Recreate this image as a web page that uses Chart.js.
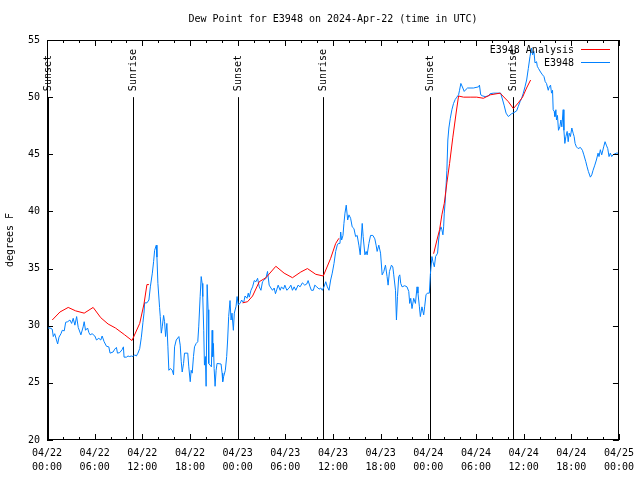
<!DOCTYPE html>
<html>
<head>
<meta charset="utf-8">
<script src="https://cdn.jsdelivr.net/npm/chart.js@4"></script>
<style>
  html, body { margin: 0; padding: 0; background: #fff; }
  canvas { display: block; }
</style>
</head>
<body>
<canvas id="dewChart" width="640" height="480"></canvas>
<script>
// hours since 04/22 00:00 UTC
const blueHours = [
  0.00, 0.38, 0.66, 0.79, 0.97, 1.34, 1.51, 1.76, 1.92, 2.17, 2.35, 2.60, 2.89, 3.10, 3.30, 3.51, 3.73, 3.93,
  4.27, 4.55, 4.68, 4.85, 5.11, 5.27, 5.43, 5.68, 6.02, 6.23, 6.52, 6.77, 6.94, 7.19, 7.49, 7.78, 7.94, 8.32,
  8.53, 8.74, 8.87, 9.16, 9.45, 9.62, 9.70, 10.00, 10.20, 10.41, 10.62, 10.83, 11.04, 11.25, 11.45, 11.67,
  11.88, 12.08, 12.21, 12.29, 12.58, 12.83, 13.01, 13.26, 13.42, 13.55, 13.76, 13.84, 13.96, 14.17, 14.26,
  14.39, 14.51, 14.68, 14.80, 14.93, 15.09, 15.22, 15.34, 15.52, 15.77, 15.93, 16.06, 16.27, 16.60, 16.77,
  16.90, 17.02, 17.19, 17.31, 17.72, 17.85, 18.03, 18.15, 18.28, 18.44, 18.57, 18.78, 18.98, 19.10, 19.28,
  19.41, 19.53, 19.61, 19.73, 19.82, 19.94, 20.03, 20.16, 20.28, 20.36, 20.53, 20.70, 20.79, 20.86, 20.95,
  21.04, 21.16, 21.29, 21.41, 21.91, 22.04, 22.12, 22.24, 22.45, 22.62, 22.74, 22.87, 23.04, 23.17, 23.29,
  23.46, 23.58, 23.80, 23.93, 24.08, 24.34, 24.50, 24.75, 24.93, 25.18, 25.34, 25.46, 25.68, 25.88, 26.09,
  26.31, 26.51, 26.72, 26.93, 27.13, 27.35, 27.56, 27.76, 27.97, 28.19, 28.39, 28.60, 28.76, 28.94, 29.10,
  29.35, 29.52, 29.77, 29.94, 30.19, 30.48, 30.70, 30.90, 31.11, 31.32, 31.61, 31.86, 32.15, 32.45, 32.70,
  32.87, 33.12, 33.28, 33.53, 33.71, 33.96, 34.25, 34.46, 34.66, 34.87, 35.09, 35.29, 35.50, 35.71, 35.91,
  36.13, 36.34, 36.54, 36.67, 36.88, 36.97, 37.09, 37.26, 37.38, 37.51, 37.67, 37.85, 38.01, 38.22, 38.42,
  38.64, 38.85, 39.05, 39.26, 39.43, 39.55, 39.68, 39.80, 40.02, 40.18, 40.30, 40.52, 40.73, 41.02, 41.27,
  41.43, 41.56, 41.77, 41.99, 42.19, 42.40, 42.61, 42.81, 42.94, 43.11, 43.36, 43.53, 43.65, 43.87, 43.99,
  44.12, 44.28, 44.41, 44.53, 44.70, 45.03, 45.32, 45.54, 45.66, 45.79, 45.95, 46.16, 46.38, 46.58, 46.70,
  46.88, 47.00, 47.20, 47.42, 47.54, 47.71, 47.88, 48.13, 48.26, 48.46, 48.58, 48.76, 48.92, 49.17, 49.30,
  49.42, 49.59, 49.71, 49.84, 49.93, 50.01, 50.14, 50.34, 50.46, 50.59, 50.77, 50.97, 51.18, 51.39, 51.59,
  51.81, 51.93, 52.10, 52.35, 52.52, 52.77, 52.94, 53.69, 54.32, 54.44, 54.60, 54.86, 55.16, 55.57, 55.78,
  56.20, 57.11, 57.36, 57.54, 57.79, 58.08, 58.49, 58.79, 59.12, 59.33, 59.55, 59.75, 59.96, 60.17, 60.38,
  60.59, 60.80, 61.00, 61.13, 61.30, 61.43, 61.63, 61.72, 61.88, 62.13, 62.38, 62.56, 62.72, 62.88, 63.10,
  63.22, 63.39, 63.51, 63.64, 63.72, 63.85, 63.94, 64.06, 64.14, 64.26, 64.39, 64.56, 64.69, 64.81, 64.98,
  65.07, 65.19, 65.32, 65.48, 65.61, 65.73, 65.89, 66.07, 66.23, 66.36, 66.48, 66.65, 66.86, 67.15, 67.40,
  67.58, 67.83, 67.99, 68.15, 68.40, 68.58, 68.74, 68.96, 69.16, 69.37, 69.49, 69.66, 69.83, 70.08, 70.25,
  70.41, 70.59, 70.75, 70.91, 71.09, 71.25, 71.66, 72.00
];
const blueValues = [
  29.8, 29.8, 29.7, 29.05, 29.3, 28.4, 29.0, 29.3, 29.6, 29.55, 30.3, 30.35, 30.5, 30.2, 30.65, 30.05, 30.8, 29.85,
  29.2, 29.9, 30.35, 29.6, 29.8, 29.4, 29.2, 29.3, 29.1, 28.75, 28.9, 28.75, 29.1, 28.6, 28.2, 28.15, 27.6, 27.7,
  27.95, 28.1, 27.6, 27.65, 27.9, 28.15, 27.25, 27.25, 27.35, 27.3, 27.35, 27.3, 27.45, 27.35, 27.6, 28.0,
  29.0, 30.3, 31.1, 32.0, 32.0, 32.25, 33.4, 34.6, 35.6, 36.6, 37.05, 36.0, 33.7, 31.6, 30.8,
  29.35, 29.9, 30.9, 30.35, 29.05, 30.2, 28.15, 26.1, 26.25, 26.1, 25.7, 28.15, 28.75, 29.05, 28.3,
  26.85, 25.95, 26.7, 27.6, 27.6, 26.4, 25.1, 26.1, 25.85, 27.3, 28.15, 28.45, 28.6, 29.9, 32.55,
  34.3, 33.7, 32.55, 29.6, 26.55, 27.3, 24.7, 33.6, 31.4, 26.7, 26.55, 26.4, 29.6, 27.3, 28.45,
  26.25, 24.7, 26.1, 26.7, 26.65, 25.85, 25.1, 25.55, 26.1, 27.3, 28.75, 30.8, 32.2, 30.5, 31.1,
  29.6, 31.1, 31.7, 32.55, 31.8, 32.0, 32.25, 32.0, 32.6, 32.4, 32.85, 32.5, 33.1, 33.4, 33.95,
  33.85, 34.15, 33.4, 33.1, 33.85, 34.0, 34.15, 34.75, 33.55, 33.3, 33.1, 33.3, 32.8, 33.2, 33.55,
  33.1, 33.4, 33.2, 33.55, 33.1, 33.3, 33.55, 33.1, 33.4, 33.1, 33.55, 33.4, 33.75, 33.55, 33.65,
  33.95, 33.4, 33.1, 33.1, 33.55, 33.4, 33.2, 33.3, 33.1, 33.4, 33.85, 33.4, 33.1, 34.0, 34.6,
  35.45, 36.5, 37.05, 37.2, 37.2, 38.2, 37.5, 37.9, 38.95, 39.85, 40.55, 39.25, 39.7, 39.4, 38.65,
  38.5, 37.8, 37.9, 37.05, 36.2, 37.5, 38.95, 37.8, 36.2, 36.5, 36.2, 37.2, 37.9, 37.9, 37.6,
  37.05, 36.5, 37.05, 36.35, 34.45, 34.75, 35.3, 34.3, 33.55, 34.75, 35.3, 35.15, 34.45, 33.1, 30.5,
  32.55, 34.3, 34.45, 33.7, 33.4, 33.5, 33.4, 33.0, 31.95, 32.4, 31.5, 32.4, 31.95, 33.4, 32.85,
  31.65, 30.8, 31.65, 30.95, 31.65, 32.7, 32.85, 32.85, 34.5, 36.05, 35.6, 35.15, 36.05, 36.35, 37.5,
  38.2, 38.65, 38.4, 37.95, 38.65, 39.85, 41.0, 43.6, 46.25, 47.3, 48.15, 48.9, 49.45, 49.8, 50.0,
  50.2, 50.6, 51.2, 50.8, 50.5, 50.7, 50.8, 50.8, 50.9, 51.05, 50.2, 50.1, 50.05, 50.1, 50.3,
  50.35, 50.35, 49.75, 49.3, 48.6, 48.3, 48.55, 48.65, 48.8, 49.2, 49.6, 49.9, 50.35, 50.9, 51.5,
  52.5, 53.55, 54.3, 53.7, 54.0, 53.0, 53.1, 52.7, 52.5, 52.2, 51.95, 51.8, 51.35, 51.2, 50.6,
  50.9, 51.05, 50.35, 50.6, 48.9, 48.75, 48.3, 48.9, 48.0, 48.4, 47.1, 47.4, 48.0, 47.4, 48.9,
  47.1, 45.95, 46.55, 47.0, 46.1, 46.85, 46.55, 47.3, 46.85, 46.55, 45.95, 45.65, 45.5, 45.6, 45.35,
  44.95, 44.35, 43.9, 43.5, 43.0, 43.2, 43.6, 44.05, 44.5, 45.1, 44.8, 45.4, 44.95, 45.65, 46.1,
  45.8, 45.5, 44.8, 45.1, 44.8, 44.95, 45.1, 45.1
];

// analysis series, null = no analysis
const redHours = [
  0.66, 1.63, 2.67, 3.60, 4.68, 5.81, 6.77, 7.69, 8.62, 9.78, 10.70, 11.67, 12.21, 12.58, 12.83,
  18.0,
  24.62, 25.25, 25.88, 26.72, 27.56, 28.81, 29.85, 30.90, 31.95, 32.78, 33.83, 34.78, 35.71, 36.34, 36.75,
  42.0,
  48.67, 49.09, 49.42, 49.71, 50.01, 50.34, 50.68, 51.09, 51.52, 51.81, 52.43, 53.27, 54.10, 54.94, 55.78,
  57.04, 58.08, 58.71, 59.33, 59.87, 60.37, 60.88
];
const redValues = [
  30.5, 31.2, 31.6, 31.3, 31.1, 31.6, 30.7, 30.15, 29.8, 29.2, 28.7, 30.2, 31.9, 33.6, 33.6,
  null,
  32.0, 32.1, 32.6, 33.85, 34.2, 35.2, 34.6, 34.2, 34.7, 35.0, 34.5, 34.35, 35.9, 37.2, 37.65,
  null,
  36.3, 37.5, 38.4, 39.7, 40.7, 42.5, 44.2, 46.5, 48.7, 50.1, 50.0, 50.0, 50.0, 49.9, 50.2,
  50.35, 49.6, 49.0, 49.5, 50.0, 50.8, 51.5
];

const sunEvents = ['Sunset', 'Sunrise', 'Sunset', 'Sunrise', 'Sunset', 'Sunrise'];
const sunHours = [0.1, 10.79, 24.08, 34.75, 48.17, 58.71];

const seriesNames = ['E3948 Analysis', 'E3948'];
const seriesColors = ['#ff0000', '#0080ff'];

const FONT = '10px "DejaVu Sans Mono", monospace';

const gnuplotDecor = {
  id: 'gnuplotDecor',
  beforeDatasetsDraw(chart) {
    const ctx = chart.ctx;
    const xs = chart.scales.x;
    const ys = chart.scales.y;
    ctx.save();
    ctx.strokeStyle = '#000';
    ctx.lineWidth = 1;
    ctx.fillStyle = '#000';
    ctx.font = FONT;
    sunHours.forEach((h, i) => {
      const px = Math.round(xs.getPixelForValue(h)) + 0.5;
      const top = ys.getPixelForValue(50);
      ctx.beginPath();
      ctx.moveTo(px, top);
      ctx.lineTo(px, ys.getPixelForValue(20));
      ctx.stroke();
      ctx.save();
      ctx.translate(px, top - 6);
      ctx.rotate(-Math.PI / 2);
      ctx.textAlign = 'left';
      ctx.textBaseline = 'middle';
      ctx.fillText(sunEvents[i], 0, 0);
      ctx.restore();
    });
    ctx.restore();
  },
  afterDraw(chart) {
    const ctx = chart.ctx;
    const a = chart.chartArea;
    const xs = chart.scales.x;
    const ys = chart.scales.y;
    ctx.save();
    ctx.strokeStyle = '#000';
    ctx.lineWidth = 1;
    // frame
    ctx.strokeRect(Math.round(a.left) + 0.5, Math.round(a.top) + 0.5,
      Math.round(a.right - a.left) - 1, Math.round(a.bottom - a.top) - 1);
    // inward ticks
    ctx.beginPath();
    for (let v = 20; v <= 55; v += 5) {
      const py = Math.round(ys.getPixelForValue(v)) + 0.5;
      ctx.moveTo(a.left, py); ctx.lineTo(a.left + 6, py);
      ctx.moveTo(a.right, py); ctx.lineTo(a.right - 6, py);
    }
    for (let h = 0; h <= 72; h += 2) {
      const px = Math.round(xs.getPixelForValue(h)) + 0.5;
      const len = h % 6 === 0 ? 6 : 3;
      ctx.moveTo(px, a.bottom); ctx.lineTo(px, a.bottom - len);
      ctx.moveTo(px, a.top); ctx.lineTo(px, a.top + len);
    }
    ctx.stroke();

    ctx.fillStyle = '#000';
    ctx.font = FONT;
    // title
    ctx.textAlign = 'center';
    ctx.textBaseline = 'middle';
    ctx.fillText('Dew Point for E3948 on 2024-Apr-22 (time in UTC)', 333, 19);
    // y axis title
    ctx.save();
    ctx.translate(10, (a.top + a.bottom) / 2);
    ctx.rotate(-Math.PI / 2);
    ctx.fillText('degrees F', 0, 0);
    ctx.restore();
    // legend
    ctx.textAlign = 'right';
    seriesNames.forEach((name, i) => {
      const ly = 50 + i * 13;
      ctx.fillText(name, 574, ly);
      ctx.strokeStyle = seriesColors[i];
      ctx.beginPath();
      ctx.moveTo(581, ly - 0.5);
      ctx.lineTo(610, ly - 0.5);
      ctx.stroke();
    });
    ctx.restore();
  }
};

const zone = document.getElementById('dewChart');
new Chart(zone, {
  type: 'line',
  data: {
    datasets: [
      {
        label: seriesNames[0],
        data: redHours.map((h, i) => ({ x: h, y: redValues[i] })),
        borderColor: seriesColors[0],
        borderWidth: 1,
        pointRadius: 0,
        tension: 0,
        spanGaps: false
      },
      {
        label: seriesNames[1],
        data: blueHours.map((h, i) => ({ x: h, y: blueValues[i] })),
        borderColor: seriesColors[1],
        borderWidth: 1,
        pointRadius: 0,
        tension: 0
      }
    ]
  },
  options: {
    responsive: false,
    animation: false,
    layout: { padding: { top: 40, right: 19, left: 0, bottom: 0 } },
    plugins: {
      legend: { display: false },
      tooltip: { enabled: false },
      title: { display: false }
    },
    scales: {
      x: {
        type: 'linear',
        min: 0,
        max: 72,
        grid: { display: false, drawTicks: false },
        border: { display: false },
        afterFit: (scale) => { scale.height = 40; },
        ticks: {
          stepSize: 6,
          autoSkip: false,
          maxRotation: 0,
          padding: 6,
          color: '#000',
          font: { family: '"DejaVu Sans Mono", monospace', size: 10, lineHeight: 1.4 },
          callback: (v) => {
            const day = 22 + Math.floor(v / 24);
            const hr = v % 24;
            return ['04/' + day, String(hr).padStart(2, '0') + ':00'];
          }
        }
      },
      y: {
        min: 20,
        max: 55,
        grid: { display: false, drawTicks: false },
        border: { display: false },
        afterFit: (scale) => { scale.width = 47; },
        ticks: {
          stepSize: 5,
          padding: 7,
          color: '#000',
          font: { family: '"DejaVu Sans Mono", monospace', size: 10 }
        }
      }
    }
  },
  plugins: [gnuplotDecor]
});
</script>
</body>
</html>
